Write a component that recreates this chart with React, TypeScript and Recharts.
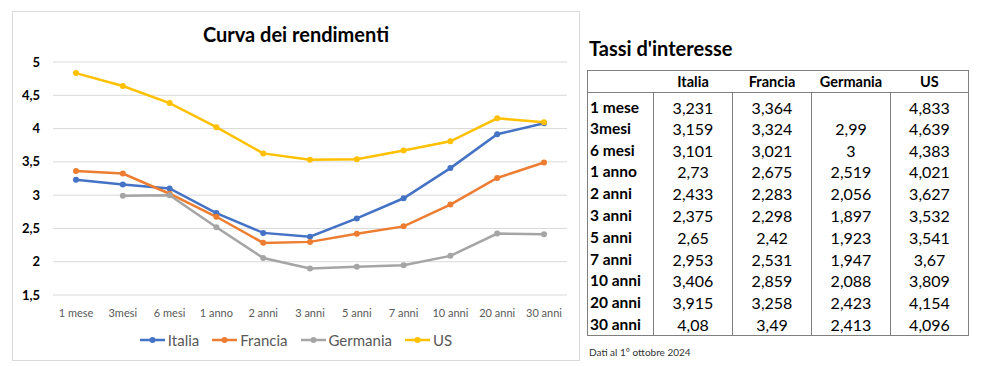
import React from "react";
import { LineChart, Line, XAxis, YAxis, CartesianGrid, Legend } from "recharts";

// Yield curve data (1 Oct 2024)
const CATEGORIES = ["1 mese", "3mesi", "6 mesi", "1 anno", "2 anni", "3 anni", "5 anni", "7 anni", "10 anni", "20 anni", "30 anni"];
const ITALIA = [3.231, 3.159, 3.101, 2.73, 2.433, 2.375, 2.65, 2.953, 3.406, 3.915, 4.08];
const FRANCIA = [3.364, 3.324, 3.021, 2.675, 2.283, 2.298, 2.42, 2.531, 2.859, 3.258, 3.49];
const GERMANIA: (number | null)[] = [null, 2.99, 3, 2.519, 2.056, 1.897, 1.923, 1.947, 2.088, 2.423, 2.413];
const US = [4.833, 4.639, 4.383, 4.021, 3.627, 3.532, 3.541, 3.67, 3.809, 4.154, 4.096];
const Y_TICKS = [1.5, 2, 2.5, 3, 3.5, 4, 4.5, 5];

const SERIES = [
  { key: "Italia", values: ITALIA, color: "#4472C4" },
  { key: "Francia", values: FRANCIA, color: "#ED7D31" },
  { key: "Germania", values: GERMANIA, color: "#A5A5A5" },
  { key: "US", values: US, color: "#FFC000" },
];

const data = CATEGORIES.map((name, i) => {
  const row: Record<string, string | number | null> = { name };
  SERIES.forEach((s) => (row[s.key] = s.values[i]));
  return row;
});

const FONT = "Lato, 'Open Sans', sans-serif";
const comma = (v: number | null) => (v === null ? "" : String(v).replace(".", ","));

function LegendContent() {
  return (
    <div style={{ display: "flex", justifyContent: "center", gap: 13, fontFamily: FONT, fontSize: 15, color: "#595959" }}>
      {SERIES.map((s) => (
        <div key={s.key} style={{ display: "flex", alignItems: "center", gap: 3 }}>
          <svg width={25} height={8}>
            <line x1={0} y1={4} x2={25} y2={4} stroke={s.color} strokeWidth={2.5} />
            <circle cx={12.5} cy={4} r={3} fill={s.color} />
          </svg>
          <span>{s.key}</span>
        </div>
      ))}
    </div>
  );
}

function YieldChart() {
  return (
    <div
      style={{
        position: "absolute",
        left: 12,
        top: 11,
        width: 568,
        height: 350,
        border: "1px solid #d9d9d9",
        boxSizing: "border-box",
        background: "#fff",
      }}
    >
      <div
        style={{
          position: "absolute",
          top: 10,
          left: 0,
          width: "100%",
          textAlign: "center",
          fontFamily: FONT,
          fontWeight: 700,
          fontSize: 20,
          color: "#000",
        }}
      >
        Curva dei rendimenti
      </div>
      <LineChart width={566} height={348} data={data} margin={{ top: 50, right: 12, bottom: 13, left: 0 }}>
        <CartesianGrid vertical={false} stroke="#d9d9d9" />
        <XAxis
          dataKey="name"
          padding={{ left: 23, right: 23 }}
          tickLine={false}
          axisLine={false}
          tickSize={0}
          tickMargin={14}
          height={30}
          interval={0}
          tick={{ fontFamily: FONT, fontSize: 11, fill: "#595959" }}
        />
        <YAxis
          domain={[1.5, 5]}
          ticks={Y_TICKS}
          width={40}
          tickLine={false}
          axisLine={false}
          tickSize={0}
          tickMargin={13}
          tickFormatter={(v: number) => comma(v)}
          tick={{ fontFamily: FONT, fontSize: 13, fontWeight: 700, fill: "#000" }}
        />
        <Legend
          verticalAlign="bottom"
          height={22}
          content={<LegendContent />}
          wrapperStyle={{ bottom: 7, left: 0, width: 566 }}
        />
        {SERIES.map((s) => (
          <Line
            key={s.key}
            dataKey={s.key}
            stroke={s.color}
            strokeWidth={2.5}
            dot={{ r: 3, fill: s.color, stroke: s.color, strokeWidth: 0 }}
            isAnimationActive={false}
          />
        ))}
      </LineChart>
    </div>
  );
}

const cellBorder = "1px solid #7f7f7f";

function RatesTable() {
  return (
    <div style={{ position: "absolute", left: 587, top: 34, fontFamily: FONT, color: "#000" }}>
      <div style={{ fontSize: 20, fontWeight: 700, marginLeft: 2, height: 36, lineHeight: "28px" }}>Tassi d'interesse</div>
      <table style={{ borderCollapse: "collapse", border: cellBorder, width: 381, tableLayout: "fixed" }}>
        <colgroup>
          <col style={{ width: 66 }} />
          <col style={{ width: 79 }} />
          <col style={{ width: 79 }} />
          <col style={{ width: 79 }} />
          <col style={{ width: 78 }} />
        </colgroup>
        <thead>
          <tr style={{ height: 22, borderBottom: cellBorder }}>
            <th />
            {SERIES.map((s) => (
              <th key={s.key} style={{ fontSize: 14.5, fontWeight: 700, textAlign: "center", padding: 0 }}>
                {s.key}
              </th>
            ))}
          </tr>
        </thead>
        <tbody>
          {CATEGORIES.map((c, i) => {
            const pad = i === 0 ? "4px" : "0";
            return (
              <tr key={c} style={{ height: i === 0 ? 25 : 21.8 }}>
                <td style={{ fontSize: 15.5, fontWeight: 700, padding: `${pad} 0 0 2px`, borderRight: cellBorder, whiteSpace: "nowrap", lineHeight: "19px" }}>{c}</td>
                {SERIES.map((s, j) => (
                  <td
                    key={s.key}
                    style={{
                      fontSize: 16,
                      lineHeight: "19px",
                      textAlign: "center",
                      padding: `${pad} 0 0 0`,
                      borderRight: j < SERIES.length - 1 ? cellBorder : undefined,
                    }}
                  >
                    {comma(s.values[i])}
                  </td>
                ))}
              </tr>
            );
          })}
        </tbody>
      </table>
      <div style={{ fontSize: 10, marginTop: 10, marginLeft: 2, color: "#333" }}>Dati al 1° ottobre 2024</div>
    </div>
  );
}

export default function App() {
  return (
    <div style={{ position: "absolute", left: 0, top: 0, width: 981, height: 366, background: "#fff", overflow: "hidden" }}>
      <YieldChart />
      <RatesTable />
    </div>
  );
}
